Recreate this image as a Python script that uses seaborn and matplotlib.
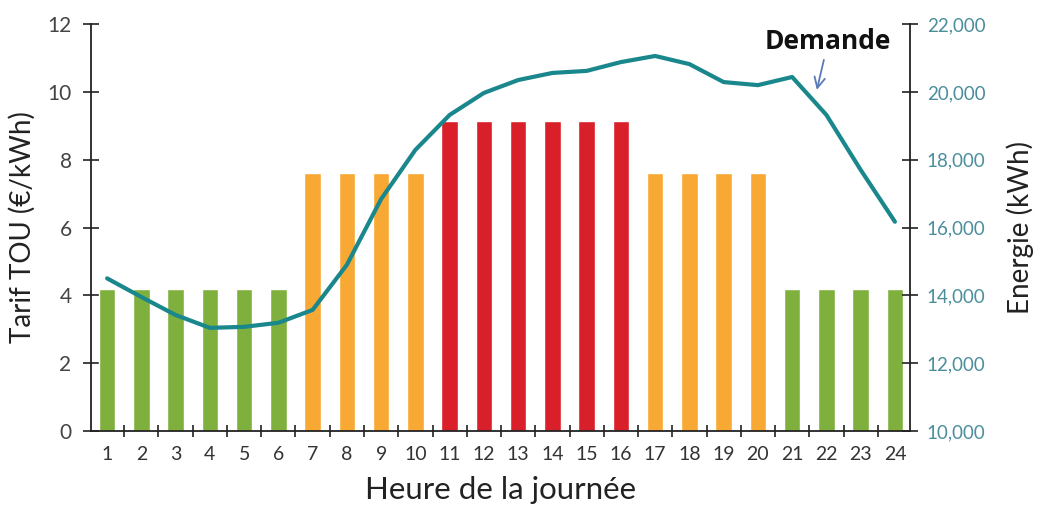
import numpy as np
import pandas as pd
import matplotlib.pyplot as plt
import seaborn as sns

# heures de la journee
hours = list(range(1, 25))
# tarif TOU (EUR/kWh) par heure
tariff = [4.2] * 6 + [7.6] * 4 + [9.15] * 6 + [7.6] * 4 + [4.2] * 4
period = ['creuse'] * 6 + ['pleine'] * 4 + ['pointe'] * 6 + ['pleine'] * 4 + ['creuse'] * 4
# demande (kWh)
demand = [14500, 13950, 13420, 13040, 13070, 13190, 13570, 14900, 16840, 18290,
          19320, 19970, 20350, 20560, 20620, 20880, 21060, 20820, 20290, 20200,
          20440, 19320, 17700, 16170]

palette = {'creuse': '#7fb03d', 'pleine': '#f8a934', 'pointe': '#d81f2a'}
line_color = '#1a878c'
right_color = '#4a8e9c'

df = pd.DataFrame({'heure': hours, 'tarif': tariff, 'periode': period, 'demande': demand})

sns.set_style('ticks')
plt.rcParams['font.family'] = ['Lato', 'DejaVu Sans']

fig = plt.figure(figsize=(10.4, 5.13), dpi=100)
ax = fig.add_axes([0.0875, 0.16, 0.7875, 0.793])

sns.barplot(data=df, x='heure', y='tarif', hue='periode', palette=palette,
            native_scale=True, dodge=False, width=0.48, legend=False,
            saturation=1, ax=ax)

ax.set_xlim(0.53, 24.44)
ax.set_ylim(0, 12)
ax.set_yticks(range(0, 13, 2))
ax.set_xticks(hours)
ax.set_xticklabels([str(h) for h in hours])
ax.set_xticks([h + 0.5 for h in hours[:-1]], minor=True)
ax.tick_params(axis='x', which='major', length=0, pad=11, labelsize=14, colors='#333333')
ax.tick_params(axis='x', which='minor', direction='inout', length=9, width=1.2, color='#222222')
ax.tick_params(axis='y', direction='inout', length=12, width=1.2, labelsize=15,
               color='#222222', labelcolor='#444444', pad=8)
ax.set_xlabel('Heure de la journée', fontsize=22.5, color='#222222', labelpad=9)
ax.set_ylabel('Tarif TOU (€/kWh)', fontsize=20, color='#222222', labelpad=8)
for s in ['left', 'bottom']:
    ax.spines[s].set_color('#222222')
    ax.spines[s].set_linewidth(1.3)
ax.spines['top'].set_visible(False)
ax.spines['right'].set_visible(False)

ax2 = ax.twinx()
sns.lineplot(data=df, x='heure', y='demande', color=line_color, linewidth=3, ax=ax2)
ax2.set_ylim(10000, 22000)
ax2.set_yticks(range(10000, 22001, 2000))
ax2.set_yticklabels(['{:,}'.format(v) for v in range(10000, 22001, 2000)])
ax2.tick_params(axis='y', direction='inout', length=12, width=1.2, labelsize=13.5,
                color='#222222', labelcolor=right_color, pad=6)
ax2.set_ylabel('Energie (kWh)', fontsize=20, color='#222222', labelpad=15)
ax2.spines['right'].set_color('#222222')
ax2.spines['right'].set_linewidth(1.3)
for s in ['top', 'left', 'bottom']:
    ax2.spines[s].set_visible(False)
ax2.set_xlim(0.53, 24.44)

ax2.annotate('Demande', xy=(21.72, 20060), xytext=(22.05, 21480),
             ha='center', va='center', fontsize=19, fontweight='bold', color='#111111',
             family=['Open Sans', 'DejaVu Sans'],
             arrowprops=dict(arrowstyle='->', color='#5b79b8', lw=1.3, shrinkA=1, shrinkB=0))

fig.savefig('out.png', dpi=100, facecolor='white')
